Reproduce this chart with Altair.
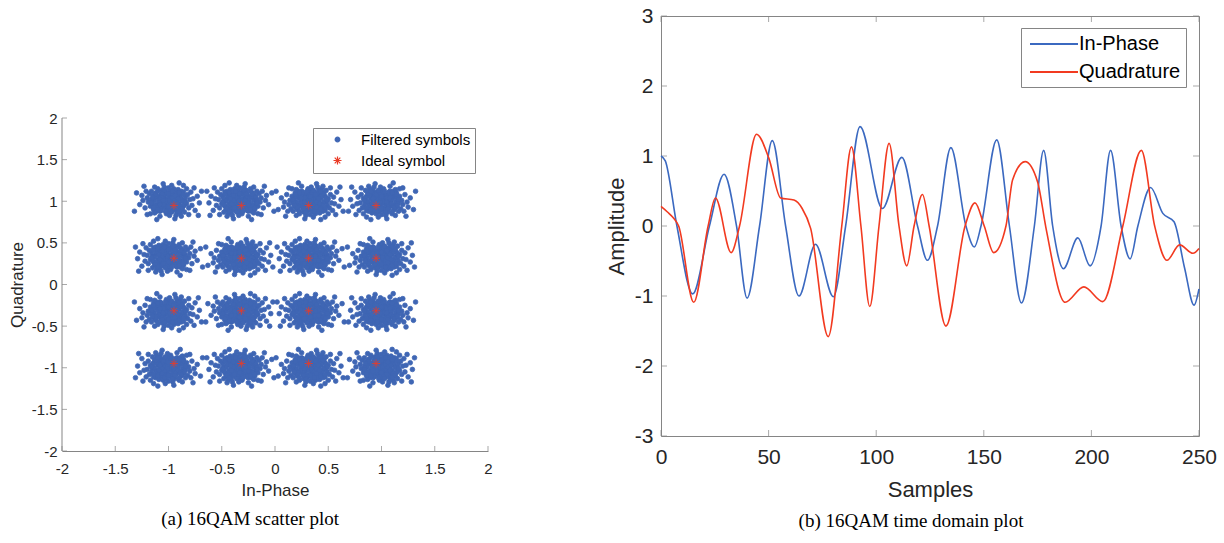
import altair as alt
import pandas as pd

# ---------------- (a) 16QAM scatter plot ----------------
CLUSTER_I = [-1.0, -0.33, 0.33, 1.0]
CLUSTER_Q = [1.0, 0.33, -0.33, -1.0]
IDEAL_LEVELS = [-0.949, -0.316, 0.316, 0.949]

# hand-read spread of received symbols around a cluster centre (hundredths)
NOISE_I = [0, 5, -4, 3, -6, 8, -9, 2, -2, 10,
           -11, 7, -7, 12, -3, 4, -13, 1, -5, 6,
           9, -10, 14, -14, 11, -8, 15, -15, 0, 3,
           -1, 4, -3, 7, -7, 2, -5, 6, -9, 10,
           13, -12, 16, -16, 8, -6, 12, -11, 17, -17,
           5, -2, 14, -14, 18, -18, 9, -10, 19, -19,
           0, 1, 11, -13, 20, -20, 15, -4, 7, -16,
           22, -22, 21, -21, 17, -17, 23, -24, 12, -8,
           3, -13, 25, -25, 19, 27, -27, 14, -20, 29,
           -30, 6, -5, 24, -23, 31, -32, 10, -11, 28,
           2, -2, 3, -4, 5, -6, 1, -1, 8, -8,
           4, -3, 9, -9, 6, -7, 11, -12, 1, -1,
           1, -3, 4, -5, 6, -7, 2, -2, 9, -9,
           11, -11, 3, -4, 13, -13, 7, -7, 12, -12,
           15, -15, 0, 0, 5, -6, 10, -10, 14, -14,
           8, -8, 6, -5, 16, -16, 4, -3, 10, -10]
NOISE_Q = [0, 2, 3, -5, -2, 6, 5, 9, -9, -3,
           -4, -8, 8, 3, 12, -11, 1, 6, -7, 10,
           -10, -9, -6, 7, 9, -12, 1, -3, -13, 13,
           3, -1, -3, 3, 0, -7, 6, -4, -6, 7,
           -10, 10, 5, 2, -13, 13, 12, -12, -3, -6,
           15, -15, 11, -10, 8, 9, 14, 15, -8, -1,
           16, -17, -15, -14, 2, 4, -13, 17, -17, 12,
           -5, -8, 11, 12, 15, -15, 3, 1, -18, -18,
           19, 17, -11, 7, -16, 6, -4, 19, -16, -2,
           10, -21, 21, 16, 18, 12, -12, 22, -22, -17,
           3, 1, -2, -5, 5, 4, -3, -6, 0, 2,
           7, 8, -5, -1, -9, -9, 4, 5, 11, -11,
           1, 0, 4, -4, 1, 5, -10, 10, 3, 3,
           -6, 6, -13, 13, 0, -6, 11, -11, -9, 8,
           -4, 5, 9, -6, -8, 9, 10, -10, 8, -8,
           -3, -4, 7, 1, -1, -2, 12, -12, -12, 12]
FLIP_I = [1, -1, 1, -1, -1, 1, -1, 1, 1, 1, -1, -1, -1, -1, 1, 1]
FLIP_Q = [1, 1, -1, -1, 1, -1, 1, -1, -1, 1, 1, -1, -1, 1, -1, 1]

KINDS = ["Filtered symbols", "Ideal symbol"]
TICKS_A = [-2, -1.5, -1, -0.5, 0, 0.5, 1, 1.5, 2]

# ---------------- (b) 16QAM time domain plot ----------------
INPHASE_N = [0, 2, 7.4, 14.7, 22.5, 29.3, 35.1, 40.0, 45.8, 51.7, 57.9, 64.1, 71.8, 80.1,
             85.8, 92.5, 102.9, 111.9, 119.2, 123.8, 128.5, 134.7, 141.7, 145.6, 148.7,
             156.0, 161.9, 167.5, 173.5, 177.8, 182.0, 187.0, 193.7, 199.4, 204.5, 208.9,
             213.8, 218.0, 221.6, 227.5, 233.2, 238.4, 243.3, 247.7, 250]
INPHASE_A = [1.00, 0.93, 0.0, -0.97, 0.0, 0.74, 0.0, -1.03, 0.0, 1.22, 0.0, -1.00, -0.26, -1.01,
             0.0, 1.42, 0.25, 0.98, 0.0, -0.49, 0.0, 1.12, 0.0, -0.30, 0.0,
             1.23, 0.0, -1.10, 0.0, 1.08, 0.0, -0.61, -0.17, -0.57, 0.0, 1.08,
             0.0, -0.47, 0.0, 0.55, 0.18, 0.06, -0.60, -1.13, -0.90]
QUAD_N = [0, 3, 5.9, 8.2, 15.2, 21.9, 25.3, 32.6, 36.5, 44.4, 50.1, 55.6, 61.8, 65.6, 69.5,
          77.7, 84.0, 88.5, 92.9, 97.0, 101.3, 106.0, 110.6, 114.2, 117.6, 121.5, 124.6,
          132.4, 141.3, 145.9, 150.2, 154.6, 160.3, 163.4, 169.2, 175.0, 178.9, 187.8,
          196.5, 205.3, 214.6, 223.2, 229.4, 235.1, 241.0, 247.2, 250]
QUAD_A = [0.28, 0.20, 0.11, 0.0, -1.09, 0.0, 0.40, -0.38, 0.0, 1.31, 0.97, 0.40, 0.37, 0.25, -0.03,
          -1.58, 0.0, 1.13, 0.0, -1.15, 0.0, 1.18, 0.0, -0.57, 0.0, 0.45, 0.0,
          -1.43, 0.0, 0.33, 0.0, -0.38, 0.0, 0.66, 0.92, 0.63, -0.03, -1.09,
          -0.87, -1.08, 0.0, 1.08, 0.0, -0.49, -0.27, -0.39, -0.32]
SERIES = ["In-Phase", "Quadrature"]
TICKS_N = [0, 50, 100, 150, 200, 250]
TICKS_AMP = [-3, -2, -1, 0, 1, 2, 3]

# ---------------- styling ----------------
FONT = "Liberation Sans"
SERIF = "Liberation Serif"
GRAY = "#858585"
TXT = "#262626"
DOT_BLUE = "#3F66B4"
STAR_RED = "#EA3B26"
LINE_BLUE = "#3B69C0"
LINE_RED = "#F23A20"
STAR = "M-1,0L1,0M0,-1L0,1M-0.7,-0.7L0.7,0.7M-0.7,0.7L0.7,-0.7"
LEGEND_LINE = "M-2.4,0L2.4,0"
LABEL_EXPR = "'' + datum.value"

# ---------------- tables ----------------
rows = []
k = 0
for q0 in CLUSTER_Q:
    for i0 in CLUSTER_I:
        for dx, dy in zip(NOISE_I, NOISE_Q):
            rows.append({"i": i0 + FLIP_I[k] * dx / 100.0,
                         "q": q0 + FLIP_Q[k] * dy / 100.0,
                         "kind": KINDS[0]})
        k += 1
for qv in IDEAL_LEVELS:
    for iv in IDEAL_LEVELS:
        rows.append({"i": iv, "q": qv, "kind": KINDS[1]})
df_sc = pd.DataFrame(rows)

df_td = pd.concat([
    pd.DataFrame({"n": INPHASE_N, "amp": INPHASE_A, "series": SERIES[0]}),
    pd.DataFrame({"n": QUAD_N, "amp": QUAD_A, "series": SERIES[1]}),
], ignore_index=True)

# ---------------- left panel ----------------
TOP0 = 15          # row origin (plot tops are aligned there)
W1, H1 = 426, 450 - TOP0
Y1_TOP = 2 + (117 - TOP0) * 4 / 333.0
XS1 = alt.Scale(domain=[-2, 2], nice=False, zero=False)
YS1 = alt.Scale(domain=[-2, Y1_TOP], nice=False, zero=False)
XAX1 = alt.Axis(values=TICKS_A, labelExpr=LABEL_EXPR, labelFlush=False, domain=True,
                domainColor=GRAY, ticks=False, tickSize=0, grid=False, labelFontSize=15,
                labelPadding=10, labelColor=TXT, labelFont=FONT, title="In-Phase",
                titleFont=FONT, titleFontSize=17, titleFontWeight="normal", titleColor=TXT,
                titleY=44, titleBaseline="alphabetic")
YAX1 = alt.Axis(values=TICKS_A, labelExpr=LABEL_EXPR, labelFlush=False, domain=False,
                ticks=False, tickSize=0, grid=False, labelFontSize=15, labelPadding=5,
                labelColor=TXT, labelFont=FONT, title="Quadrature", titleFont=FONT,
                titleFontSize=17, titleFontWeight="normal", titleColor=TXT, titleX=-45,
                titleY=(117 + 450) / 2 - TOP0, titleAngle=270, titleBaseline="middle",
                titleAlign="center")
LEG1 = alt.Legend(title=None, orient="none", legendX=251, legendY=127 - TOP0,
                  direction="vertical", fillColor="white", strokeColor=GRAY, padding=4,
                  labelFont=FONT, labelFontSize=15, labelColor="black", symbolOffset=13,
                  labelOffset=16, rowPadding=5, symbolStrokeWidth=1.2)

pts = alt.Chart(df_sc).mark_point(filled=True, opacity=1, strokeWidth=0.8).encode(
    x=alt.X("i:Q", scale=XS1, axis=XAX1),
    y=alt.Y("q:Q", scale=YS1, axis=YAX1),
    color=alt.Color("kind:N", scale=alt.Scale(domain=KINDS, range=[DOT_BLUE, STAR_RED]), legend=LEG1),
    stroke=alt.Stroke("kind:N", scale=alt.Scale(domain=KINDS, range=[DOT_BLUE, STAR_RED]), legend=LEG1),
    shape=alt.Shape("kind:N", scale=alt.Scale(domain=KINDS, range=["circle", STAR]), legend=LEG1),
    size=alt.Size("kind:N", scale=alt.Scale(domain=KINDS, range=[22, 64]), legend=LEG1),
)
tick_a = pd.DataFrame({"i": TICKS_A, "q": TICKS_A})
xt1 = alt.Chart(tick_a).mark_tick(orient="vertical", size=5, thickness=1, color=GRAY).encode(
    x=alt.X("i:Q", scale=XS1, axis=XAX1), y=alt.value(H1 - 2.5))
yt1 = alt.Chart(tick_a).mark_tick(orient="horizontal", size=5, thickness=1, color=GRAY).encode(
    y=alt.Y("q:Q", scale=YS1, axis=YAX1), x=alt.value(2.5))
axis_line = pd.DataFrame({"lo": [TICKS_A[0]], "hi": [TICKS_A[-1]]})
yl1 = alt.Chart(axis_line).mark_rule(color=GRAY, strokeWidth=1).encode(
    x=alt.value(0), y=alt.Y("lo:Q", scale=YS1, axis=YAX1), y2="hi:Q")

left = alt.layer(pts, xt1, yt1, yl1).properties(
    width=W1, height=H1,
    view=alt.ViewBackground(stroke=None),
    title=alt.TitleParams("(a) 16QAM scatter plot", orient="bottom", anchor="middle",
                          frame="bounds", font=SERIF, fontSize=19, fontWeight="normal",
                          color="black", offset=12),
)

# ---------------- right panel ----------------
W2, H2 = 538, 420
XS2 = alt.Scale(domain=[0, 250], nice=False, zero=False)
YS2 = alt.Scale(domain=[-3, 3], nice=False, zero=False)
XAX2 = alt.Axis(values=TICKS_N, labelExpr=LABEL_EXPR, labelFlush=False, domain=False,
                ticks=False, tickSize=0, grid=False, labelFontSize=21, labelPadding=10,
                labelColor=TXT, labelFont=FONT, title="Samples", titleFont=FONT,
                titleFontSize=22, titleFontWeight="normal", titleColor=TXT, titleY=60,
                titleBaseline="alphabetic")
YAX2 = alt.Axis(values=TICKS_AMP, labelExpr=LABEL_EXPR, labelFlush=False, domain=False,
                ticks=False, tickSize=0, grid=False, labelFontSize=21, labelPadding=8,
                labelColor=TXT, labelFont=FONT, title="Amplitude", titleFont=FONT,
                titleFontSize=22, titleFontWeight="normal", titleColor=TXT, titleX=-44.5,
                titleY=210, titleAngle=270, titleBaseline="middle", titleAlign="center")
LEG2 = alt.Legend(title=None, orient="none", legendX=360, legendY=12, direction="vertical",
                  fillColor="white", strokeColor=GRAY, padding=5, labelFont=FONT,
                  labelFontSize=20, labelColor="black", symbolType=LEGEND_LINE,
                  symbolSize=400, symbolStrokeWidth=2, symbolOffset=17, labelOffset=14,
                  rowPadding=7)

lines = alt.Chart(df_td).mark_line(strokeWidth=1.6, interpolate="monotone").encode(
    x=alt.X("n:Q", scale=XS2, axis=XAX2),
    y=alt.Y("amp:Q", scale=YS2, axis=YAX2),
    color=alt.Color("series:N", scale=alt.Scale(domain=SERIES, range=[LINE_BLUE, LINE_RED]), legend=LEG2),
)
tn = pd.DataFrame({"n": TICKS_N})
ta = pd.DataFrame({"amp": TICKS_AMP})
bot = alt.Chart(tn).mark_tick(orient="vertical", size=6, thickness=1, color=GRAY).encode(
    x=alt.X("n:Q", scale=XS2, axis=XAX2), y=alt.value(H2 - 3))
top = alt.Chart(tn).mark_tick(orient="vertical", size=6, thickness=1, color=GRAY).encode(
    x=alt.X("n:Q", scale=XS2, axis=XAX2), y=alt.value(3))
lft = alt.Chart(ta).mark_tick(orient="horizontal", size=6, thickness=1, color=GRAY).encode(
    y=alt.Y("amp:Q", scale=YS2, axis=YAX2), x=alt.value(3))
rgt = alt.Chart(ta).mark_tick(orient="horizontal", size=6, thickness=1, color=GRAY).encode(
    y=alt.Y("amp:Q", scale=YS2, axis=YAX2), x=alt.value(W2 - 3))

right = alt.layer(bot, top, lft, rgt, lines).properties(
    width=W2, height=H2,
    view=alt.ViewBackground(stroke=GRAY, strokeWidth=1),
    title=alt.TitleParams("(b) 16QAM time domain plot", orient="bottom", anchor="middle",
                          frame="bounds", font=SERIF, fontSize=19, fontWeight="normal",
                          color="black", offset=12),
)

chart = alt.hconcat(left, right, spacing=112).resolve_scale(
    color="independent", stroke="independent", shape="independent", size="independent",
    x="independent", y="independent",
).resolve_legend(
    color="independent", stroke="independent", shape="independent", size="independent",
).properties(
    padding={"left": 8, "top": 4, "right": 5, "bottom": 2},
    background="white",
).configure(font=FONT)

chart.save("out.html", embed_options={"renderer": "svg", "actions": False})
